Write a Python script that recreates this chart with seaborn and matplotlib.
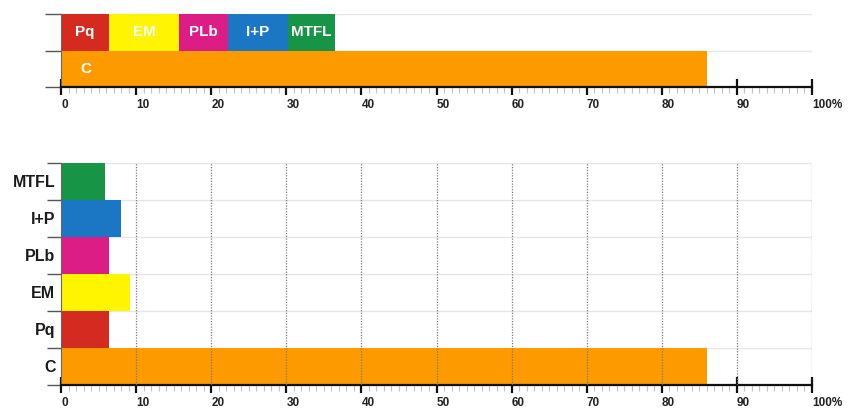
import numpy as np
import pandas as pd
import matplotlib
matplotlib.use("Agg")
import matplotlib.pyplot as plt
import seaborn as sns

# ---------------- data ----------------
categories = ["MTFL", "I+P", "PLb", "EM", "Pq", "C"]
values = [5.9, 8.0, 6.4, 9.2, 6.4, 86.0]

stack_labels = ["Pq", "EM", "PLb", "I+P", "MTFL"]
stack_values = [6.4, 9.3, 6.5, 8.0, 6.3]
c_label = "C"
c_value = 86.0

xtick_values = [0, 10, 20, 30, 40, 50, 60, 70, 80, 90, 100]
xtick_labels = ["0", "10", "20", "30", "40", "50", "60", "70", "80", "90", "100%"]

palette = {
    "Pq": "#d42a20",
    "EM": "#fff500",
    "PLb": "#dd1d86",
    "I+P": "#1b76c4",
    "MTFL": "#179446",
    "C": "#fd9a00",
}

# ---------------- style ----------------
sns.set_theme(style="white")
plt.rcParams["font.family"] = ["Liberation Sans", "DejaVu Sans"]
plt.rcParams["font.weight"] = "bold"

fig = plt.figure(figsize=(8.48, 4.08), dpi=100)
L, R = 61 / 848, 812 / 848
ax1 = fig.add_axes([L, 1 - 87 / 408, R - L, (87 - 14) / 408])
ax2 = fig.add_axes([L, 1 - 385 / 408, R - L, (385 - 162.5) / 408])


def style_x(ax):
    ax.set_xlim(0, 100)
    ax.set_xticks(xtick_values)
    ax.set_xticklabels(xtick_labels, ha="left", fontweight="bold", fontsize=8.5, color="#222222")
    ax.xaxis.set_minor_locator(matplotlib.ticker.MultipleLocator(1))
    ax.tick_params(axis="x", which="major", direction="inout", length=11, width=1.6,
                   color="#111111", pad=3.5, bottom=True)
    ax.tick_params(axis="x", which="minor", direction="out", length=4.5, width=0.8,
                   color="#c4c4c4", bottom=True)
    for s in ["top", "right"]:
        ax.spines[s].set_visible(False)
    ax.spines["bottom"].set_color("#111111")
    ax.spines["bottom"].set_linewidth(1.6)
    ax.spines["left"].set_color("#666666")
    ax.spines["left"].set_linewidth(0.8)
    ax.set_xlabel("")
    ax.set_ylabel("")


# ---------------- top: stacked bar ----------------
cum = np.cumsum(stack_values)
top_rows = ["S"] * len(stack_labels) + ["C"]
top_df = pd.DataFrame({
    "row": top_rows,
    "seg": stack_labels + [c_label],
    "cum": list(cum) + [c_value],
})
hue_order = [c_label] + stack_labels[::-1]
sns.barplot(data=top_df, x="cum", y="row", hue="seg", order=["S", "C"],
            hue_order=hue_order, palette=palette, dodge=False, width=1.0,
            saturation=1, errorbar=None, legend=False, ax=ax1, linewidth=0)
for p in ax1.patches:
    p.set_zorder(2)
    p.set_linewidth(0)
ax1.set_ylim(1.5, -0.5)
style_x(ax1)
ax1.set_yticks([-0.5, 0.5, 1.5])
ax1.set_yticklabels([])
ax1.tick_params(axis="y", which="major", direction="out", length=11.5, width=1,
                color="#555555", left=True)
ax1.grid(axis="y", which="major", color="#e6e6e6", lw=1)
ax1.set_axisbelow(True)

lefts = np.concatenate([[0], cum[:-1]])
for lab, lft, v in zip(stack_labels, lefts, stack_values):
    ax1.text(lft + v / 2, 0, lab, ha="center", va="center", color="white",
             fontweight="bold", fontsize=11, zorder=4)
ax1.text(3.3, 1, c_label, ha="center", va="center", color="white",
         fontweight="bold", fontsize=11, zorder=4)

# ---------------- bottom: individual bars ----------------
bot_df = pd.DataFrame({"cat": categories, "val": values})
sns.barplot(data=bot_df, x="val", y="cat", hue="cat", order=categories,
            hue_order=categories, palette=palette, dodge=False, width=1.0,
            saturation=1, errorbar=None, legend=False, ax=ax2, linewidth=0)
for p in ax2.patches:
    p.set_zorder(2)
    p.set_linewidth(0)
n = len(categories)
ax2.set_ylim(n - 0.5, -0.5)
style_x(ax2)
ax2.set_yticks(np.arange(-0.5, n, 1.0))
ax2.set_yticklabels([])
ax2.set_yticks(np.arange(n), minor=True)
ax2.set_yticklabels(categories, minor=True, fontweight="bold", fontsize=11.5, color="#1a1a1a")
ax2.tick_params(axis="y", which="major", direction="out", length=10, width=1,
                color="#555555", left=True)
ax2.tick_params(axis="y", which="minor", length=0, pad=4, left=True)
ax2.grid(axis="y", which="major", color="#e6e6e6", lw=1)
ax2.set_axisbelow(True)
for xv in xtick_values[1:]:
    ax2.axvline(xv, color="#7a7a7a", lw=0.9, ls=(0, (1, 1.2)), zorder=3)

fig.savefig("out.png", dpi=100)
